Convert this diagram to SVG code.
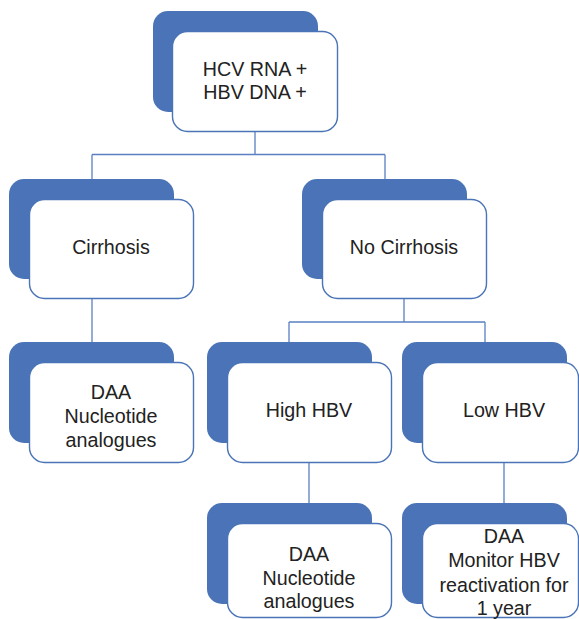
<svg xmlns="http://www.w3.org/2000/svg" width="579" height="619" viewBox="0 0 579 619">
<style>
.back{fill:#4a74b7;}
.front{fill:#ffffff;stroke:#4a74b7;stroke-width:1.4;}
.conn{fill:none;stroke:#5a80c2;stroke-width:1.3;}
text{font-family:"Liberation Sans",Arial,sans-serif;font-size:19.7px;fill:#222222;text-anchor:middle;}
</style>
<rect width="579" height="619" fill="#ffffff"/>
<g id="connectors">
<path class="conn" d="M255,132 V154.5 M92,154.5 H385 M92,154.5 V179 M385,154.5 V179"/>
<path class="conn" d="M92,299 V342"/>
<path class="conn" d="M404,299 V322 M289,322 H485 M289,322 V342 M485,322 V342"/>
<path class="conn" d="M309,463 V503"/>
<path class="conn" d="M504,463 V503"/>
</g>
<g id="node-root">
<rect class="back" x="153" y="11" width="165" height="101" rx="15"/>
<rect class="front" x="172.5" y="31.5" width="165" height="100" rx="15"/>
<text x="255" y="76">HCV RNA +</text>
<text x="255" y="99">HBV DNA +</text>
</g>
<g id="node-cirrhosis">
<rect class="back" x="9" y="179" width="165" height="100" rx="15"/>
<rect class="front" x="29.5" y="199.5" width="164" height="99" rx="15"/>
<text x="111" y="254">Cirrhosis</text>
</g>
<g id="node-nocirrhosis">
<rect class="back" x="302" y="179" width="165" height="100" rx="15"/>
<rect class="front" x="322.5" y="199.5" width="164" height="99" rx="15"/>
<text x="404" y="254">No Cirrhosis</text>
</g>
<g id="node-cirrhosis-tx">
<rect class="back" x="9" y="342" width="165" height="101" rx="15"/>
<rect class="front" x="29.5" y="362.5" width="164" height="100" rx="15"/>
<text x="111" y="399">DAA</text>
<text x="111" y="423">Nucleotide</text>
<text x="111" y="447">analogues</text>
</g>
<g id="node-highhbv">
<rect class="back" x="207" y="342" width="165" height="101" rx="15"/>
<rect class="front" x="227.5" y="362.5" width="164" height="100" rx="15"/>
<text x="309" y="417">High HBV</text>
</g>
<g id="node-lowhbv">
<rect class="back" x="402" y="342" width="165" height="101" rx="15"/>
<rect class="front" x="422.5" y="362.5" width="156" height="100" rx="15"/>
<text x="504" y="417">Low HBV</text>
</g>
<g id="node-highhbv-tx">
<rect class="back" x="207" y="503" width="165" height="101" rx="15"/>
<rect class="front" x="227.5" y="523.5" width="164" height="94" rx="15"/>
<text x="309" y="561">DAA</text>
<text x="309" y="585">Nucleotide</text>
<text x="309" y="608">analogues</text>
</g>
<g id="node-lowhbv-tx">
<rect class="back" x="402" y="503" width="165" height="101" rx="15"/>
<rect class="front" x="422.5" y="523.5" width="156" height="94" rx="15"/>
<text x="504" y="543">DAA</text>
<text x="504" y="567">Monitor HBV</text>
<text x="504" y="592">reactivation for</text>
<text x="504" y="615">1 year</text>
</g>
</svg>
